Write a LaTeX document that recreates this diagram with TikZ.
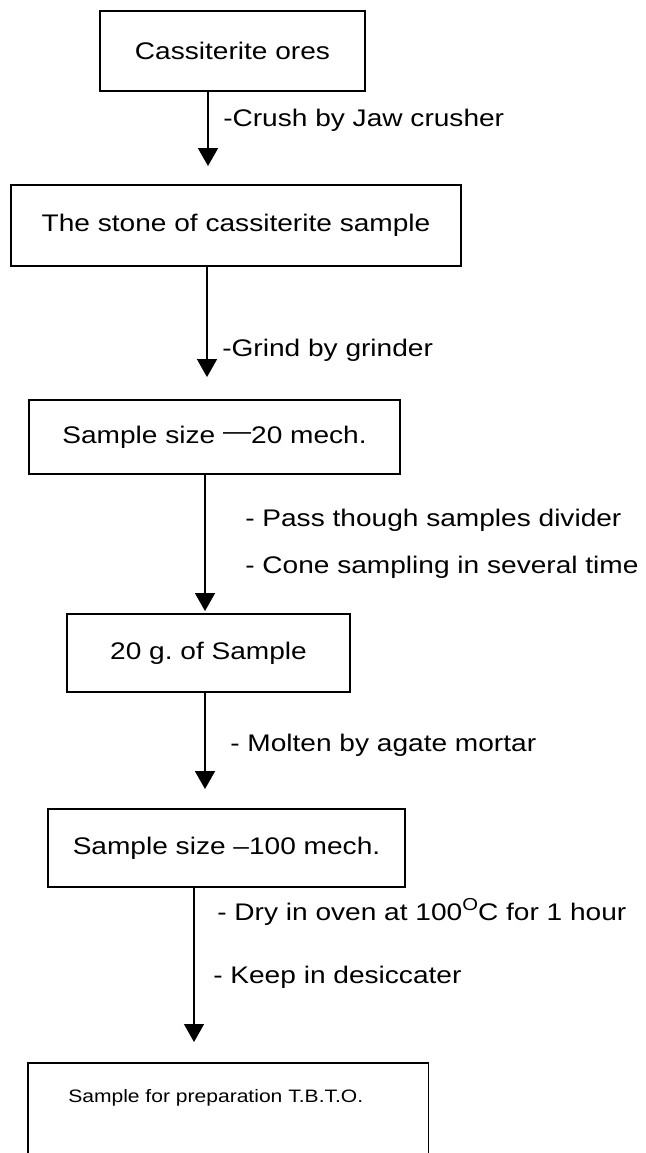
\documentclass[tikz,border=0pt]{standalone}
\usepackage{fontspec}
\setmainfont[FakeStretch=1.17]{Liberation Sans}
\usetikzlibrary{arrows.meta}
\frenchspacing
\tikzset{
  boxnode/.style 2 args={draw=black, line width=1.4pt, minimum width=#1*0.75pt, minimum height=#2*0.75pt, inner sep=0pt, font=\fontsize{18}{20}\selectfont},
  flow/.style={draw=black, line width=1pt, -{Triangle[width=15pt,length=13.5pt]}},
  lbl/.style={anchor=west, inner sep=0pt, font=\fontsize{18}{20}\selectfont},
  frame/.style={draw=black, line width=1.4pt}
}
\begin{document}
\begin{tikzpicture}[x=0.75pt,y=-0.75pt]
\useasboundingbox (0,0) rectangle (646,1153);
\node[boxnode={265}{80}] (b1) at (232.5,51) {Cassiterite ores};
\node[boxnode={450}{81}] (b2) at (236,225.5) {The stone of cassiterite sample};
\node[boxnode={371}{74}] (b3) at (214.5,437) {Sample size \raisebox{0.14em}{—}20 mech.};
\node[boxnode={283}{78}] (b4) at (208.5,653) {20 g. of Sample};
\node[boxnode={357}{78}] (b5) at (226.5,848) {Sample size –100 mech.};
\node[draw=none, minimum width=400*0.75pt, minimum height=92*0.75pt, inner sep=0pt, anchor=north west] (b6) at (28,1063) {};
\draw[frame] (b6.south west) -- (b6.north west) -- (b6.north east) -- (b6.south east);
\node[anchor=west, inner sep=0pt, font=\fontsize{13.5}{16}\selectfont] (t6) at (68,1098) {Sample for preparation T.B.T.O.};

\coordinate (a1) at (208,0);
\coordinate (a2) at (207,0);
\coordinate (a3) at (205,0);
\coordinate (a4) at (205,0);
\coordinate (a5) at (194,0);
\draw[flow, shorten >=13.5pt] (b1.south -| a1) -- (b2.north -| a1);
\draw[flow, shorten >=16.5pt] (b2.south -| a2) -- (b3.north -| a2);
\draw[flow, shorten >=1.5pt] (b3.south -| a3) -- (b4.north -| a3);
\draw[flow, shorten >=14.25pt] (b4.south -| a4) -- (b5.north -| a4);
\draw[flow, shorten >=15.75pt] (b5.south -| a5) -- (b6.north -| a5);

\node[lbl] (l1) at (223,120) {-Crush by Jaw crusher};
\node[lbl] (l2) at (222,350) {-Grind by grinder};
\node[lbl] (l3a) at (245,520) {- Pass though samples divider};
\node[lbl] (l3b) at (245,567) {- Cone sampling in several time};
\node[lbl] (l4) at (230,745) {- Molten by agate mortar};
\node[lbl] (l5a) at (217,912) {- Dry in oven at 100\raisebox{0.42em}{\fontsize{13}{13}\selectfont O}C for 1 hour};
\node[lbl] (l5b) at (213,977) {- Keep in desiccater};
\end{tikzpicture}
\end{document}
